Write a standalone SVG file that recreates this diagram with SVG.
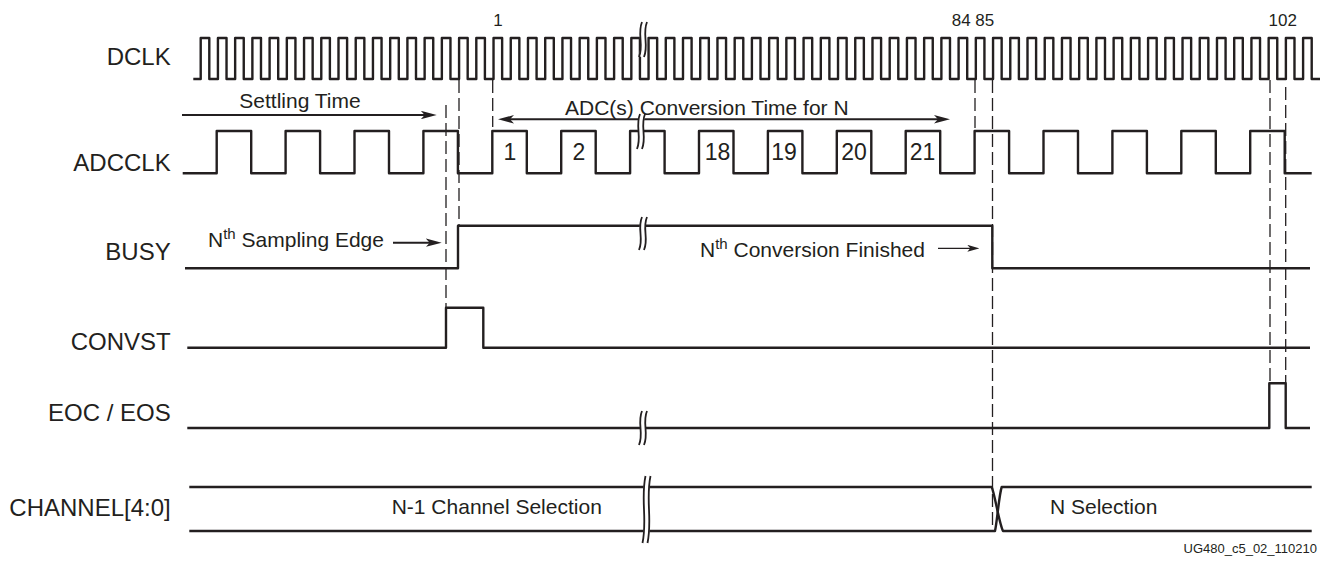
<svg xmlns="http://www.w3.org/2000/svg" width="1327" height="563" viewBox="0 0 1327 563">
<style>
.sig{fill:none;stroke:#231f20;stroke-width:2.4;stroke-linejoin:round;stroke-linecap:butt}
.dash{fill:none;stroke:#231f20;stroke-width:1.3;stroke-dasharray:13 5}
.arr{fill:none;stroke:#231f20;stroke-width:2}
.arrs{fill:none;stroke:#231f20;stroke-width:1.3}
.bw{fill:none;stroke:#fff;stroke-width:6}
.bk{fill:none;stroke:#231f20;stroke-width:1.8}
text{font-family:"Liberation Sans",Arial,sans-serif;fill:#231f20}
.lbl{font-size:24px;text-anchor:end}
.ann{font-size:21px}
.num{font-size:17px}
.dig{font-size:23px;text-anchor:middle}
</style>
<defs>
<marker id="ah" viewBox="0 0 16 8.5" refX="8" refY="4.25" markerWidth="16" markerHeight="8.5" markerUnits="userSpaceOnUse" orient="auto-start-reverse">
<path d="M0,0 L16,4.25 L0,8.5 L4,4.25 Z" fill="#231f20"/>
</marker>
<marker id="ahs" viewBox="0 0 12 7" refX="6" refY="3.5" markerWidth="12" markerHeight="7" markerUnits="userSpaceOnUse" orient="auto">
<path d="M0,0 L12,3.5 L0,7 L3,3.5 Z" fill="#231f20"/>
</marker>
</defs>

<g id="labels">
<text class="lbl" x="170.7" y="64.7">DCLK</text>
<text class="lbl" x="170.7" y="171">ADCCLK</text>
<text class="lbl" x="170.7" y="260">BUSY</text>
<text class="lbl" x="170.7" y="350">CONVST</text>
<text class="lbl" x="170.7" y="421">EOC / EOS</text>
<text class="lbl" x="170.7" y="516">CHANNEL[4:0]</text>
</g>

<g id="connectors">
<line class="dash" x1="446" y1="105" x2="446" y2="308"/>
<line class="dash" x1="459" y1="80" x2="459" y2="226"/>
<line class="dash" x1="492.7" y1="80" x2="492.7" y2="127"/>
<line class="dash" x1="975" y1="80" x2="975" y2="128"/>
<line class="dash" x1="992.5" y1="80" x2="992.5" y2="528"/>
<line class="dash" x1="1270" y1="80" x2="1270" y2="383"/>
<line class="dash" x1="1285.7" y1="87" x2="1285.7" y2="383"/>
<line class="arr" x1="182" y1="115" x2="428.7" y2="115" marker-end="url(#ah)"/>
<line class="arr" x1="506" y1="119.3" x2="942" y2="119.3" marker-start="url(#ah)" marker-end="url(#ah)"/>
<line class="arr" x1="393" y1="242.7" x2="433.7" y2="242.7" marker-end="url(#ah)"/>
<line class="arrs" x1="938" y1="248.3" x2="973.3" y2="248.3" marker-end="url(#ahs)"/>
</g>

<g id="annotations">
<text class="num" x="498" y="26" text-anchor="middle">1</text>
<text class="num" x="951.7" y="26">84 85</text>
<text class="num" x="1268.5" y="26">102</text>
<text class="ann" x="239.3" y="107.5">Settling Time</text>
<text class="ann" x="565" y="114.5">ADC(s) Conversion Time for N</text>
<text class="ann" x="208" y="247">N<tspan font-size="15" dy="-8">th</tspan><tspan dy="8"> Sampling Edge</tspan></text>
<text class="ann" x="700" y="256.7">N<tspan font-size="15" dy="-8">th</tspan><tspan dy="8"> Conversion Finished</tspan></text>
<text class="ann" x="391.7" y="514.3">N-1 Channel Selection</text>
<text class="ann" x="1050" y="514.3">N Selection</text>
<text x="1317" y="553" font-size="13" text-anchor="end">UG480_c5_02_110210</text>
</g>

<g id="dclk">
<path class="sig" d="M193.3 79H200.7V38H209.3V79H217.93V38H226.53V79H235.15V38H243.75V79H252.38V38H260.98V79H269.6V38H278.2V79H286.83V38H295.43V79H304.05V38H312.65V79H321.28V38H329.88V79H338.5V38H347.1V79H355.73V38H364.33V79H372.95V38H381.55V79H390.18V38H398.78V79H407.4V38H416V79H424.63V38H433.23V79H441.85V38H450.45V79H459.08V38H467.68V79H476.3V38H484.9V79H493.53V38H502.13V79H510.75V38H519.35V79H527.98V38H536.58V79H545.2V38H553.8V79H562.43V38H571.03V79H579.65V38H588.25V79H596.88V38H605.48V79H614.1V38H622.7V79H631.33V38H639.93V79H648.55V38H657.15V79H665.78V38H674.38V79H683V38H691.6V79H700.23V38H708.83V79H717.45V38H726.05V79H734.68V38H743.28V79H751.9V38H760.5V79H769.13V38H777.73V79H786.35V38H794.95V79H803.58V38H812.18V79H820.8V38H829.4V79H838.03V38H846.63V79H855.25V38H863.85V79H872.48V38H881.08V79H889.7V38H898.3V79H906.93V38H915.53V79H924.15V38H932.75V79H941.38V38H949.98V79H958.6V38H967.2V79H975.83V38H984.43V79H993.05V38H1001.65V79H1010.28V38H1018.88V79H1027.5V38H1036.1V79H1044.73V38H1053.33V79H1061.95V38H1070.55V79H1079.18V38H1087.78V79H1096.4V38H1105V79H1113.63V38H1122.23V79H1130.85V38H1139.45V79H1148.08V38H1156.68V79H1165.3V38H1173.9V79H1182.53V38H1191.13V79H1199.75V38H1208.35V79H1216.98V38H1225.58V79H1234.2V38H1242.8V79H1251.43V38H1260.03V79H1268.65V38H1277.25V79H1285.88V38H1294.48V79H1303.1V38H1311.7V79H1320"/>
<path class="bw" d="M644.5,22 C639.5,34.25 646.5,44.75 641.5,57"/>
<path class="bk" d="M642,22 C637,34.25 644,44.75 639,57"/>
<path class="bk" d="M647,22 C642,34.25 649,44.75 644,57"/>
</g>

<g id="adcclk">
<path class="sig" d="M182.7 173.3H216.7V131H251.2V173.3H285.6V131H320.1V173.3H354.5V131H389V173.3H423.4V131H457.9V173.3H492.3V131H526.8V173.3H561.2V131H595.7V173.3H630.1V131H664.6V173.3H699V131H733.5V173.3H767.9V131H802.4V173.3H836.8V131H871.3V173.3H905.7V131H940.2V173.3H974.6V131H1009.1V173.3H1043.5V131H1078V173.3H1112.4V131H1146.9V173.3H1181.3V131H1215.8V173.3H1250.2V131H1284.7V173.3H1311.7"/>
<path class="bw" d="M642.5,114 C637.5,126.25 644.5,136.75 639.5,149"/>
<path class="bk" d="M640,114 C635,126.25 642,136.75 637,149"/>
<path class="bk" d="M645,114 C640,126.25 647,136.75 642,149"/>
<text class="dig" x="510" y="160">1</text>
<text class="dig" x="579" y="160">2</text>
<text class="dig" x="717.5" y="160">18</text>
<text class="dig" x="784" y="160">19</text>
<text class="dig" x="854" y="160">20</text>
<text class="dig" x="922.5" y="160">21</text>
</g>

<g id="busy">
<path class="sig" d="M185 268.3H458V225.7H992.3V268.3H1310"/>
<path class="bw" d="M644.5,217 C639.5,228.55 646.5,238.45 641.5,250"/>
<path class="bk" d="M642,217 C637,228.55 644,238.45 639,250"/>
<path class="bk" d="M647,217 C642,228.55 649,238.45 644,250"/>
</g>

<g id="convst">
<path class="sig" d="M187.3 347.7H446V307.7H483.3V347.7H1310"/>
</g>

<g id="eoc">
<path class="sig" d="M187.3 428H1269.3V383.3H1285.7V428H1310"/>
<path class="bw" d="M644.5,411 C639.5,422.9 646.5,433.1 641.5,445"/>
<path class="bk" d="M642,411 C637,422.9 644,433.1 639,445"/>
<path class="bk" d="M647,411 C642,422.9 649,433.1 644,445"/>
</g>

<g id="channel">
<path class="sig" d="M189.3 487H991.7C995 495 999 523 1003 531H1311.7"/>
<path class="sig" d="M189.3 531H995C997 523 999 495 1001.7 487H1311.7"/>
<path class="bw" d="M648,476 C643,499.45 650,519.55 645,543"/>
<path class="bk" d="M645.5,476 C640.5,499.45 647.5,519.55 642.5,543"/>
<path class="bk" d="M650.5,476 C645.5,499.45 652.5,519.55 647.5,543"/>
</g>
</svg>
